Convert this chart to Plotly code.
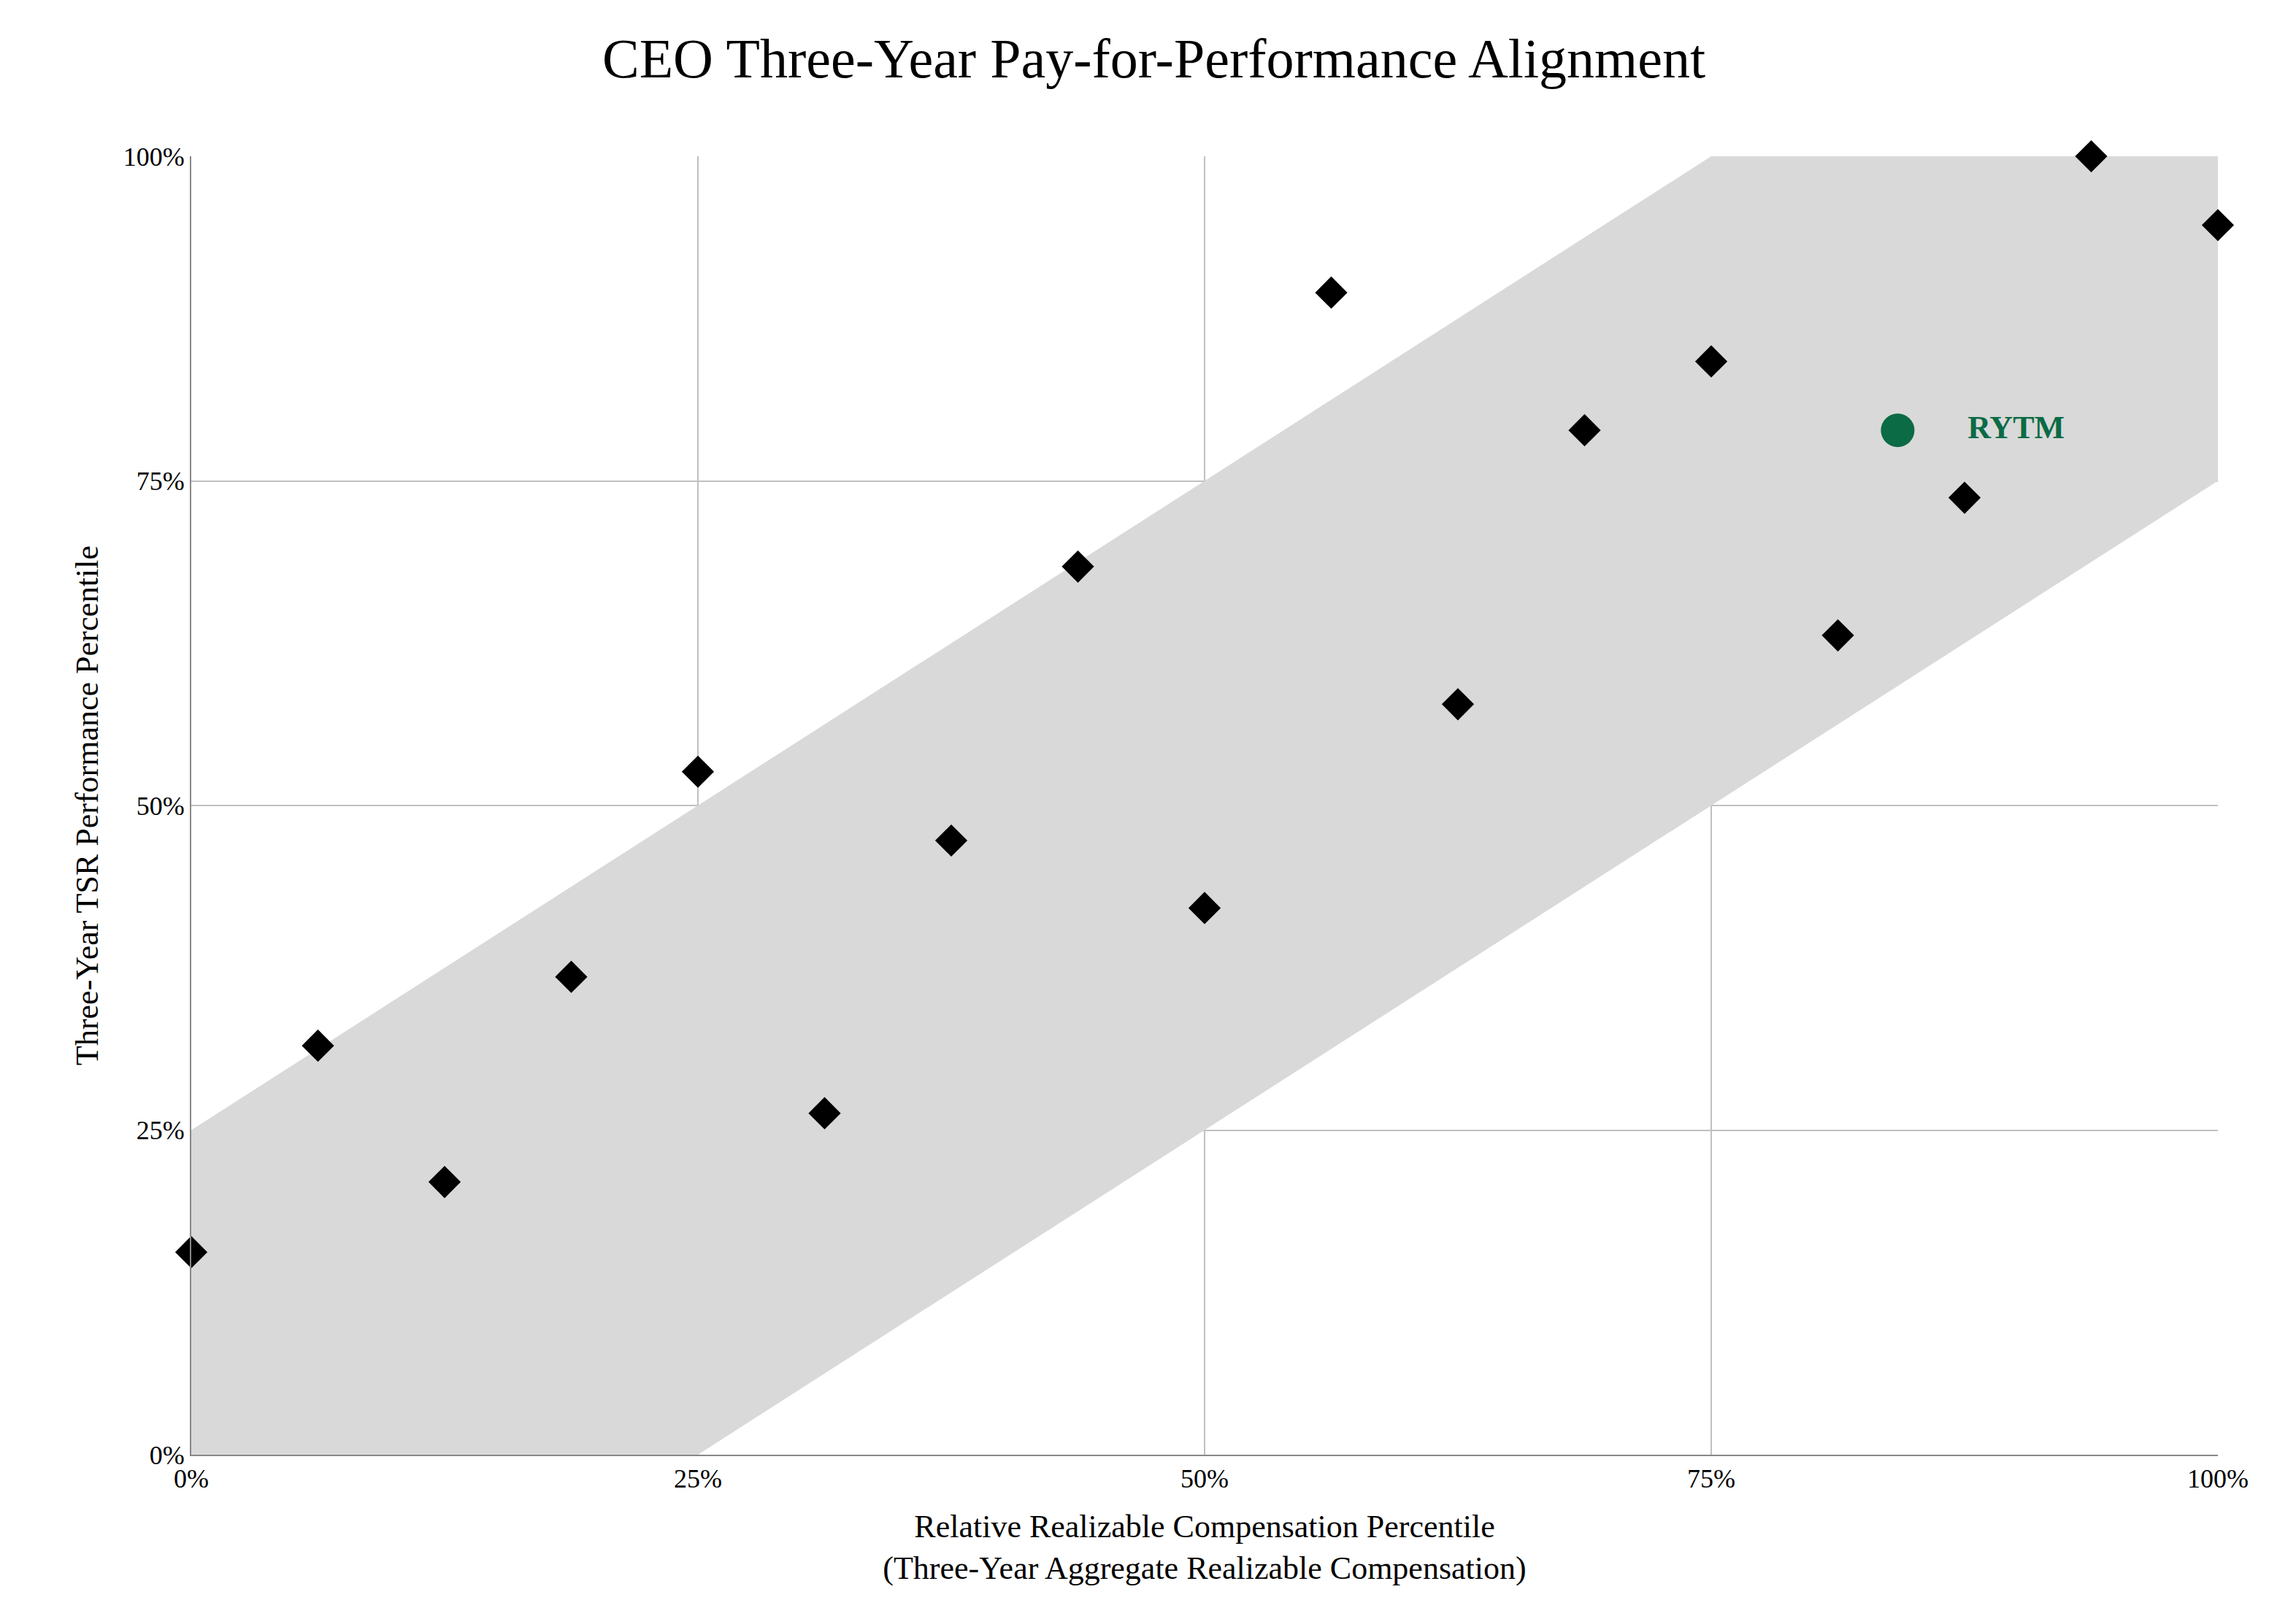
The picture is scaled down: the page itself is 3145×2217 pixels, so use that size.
import plotly.graph_objects as go

# peer companies: comp percentile vs TSR percentile
peer_x = [0, 6.25, 12.5, 18.75, 25, 31.25, 37.5, 43.75, 50, 56.25, 62.5, 68.75, 75, 81.25, 87.5, 93.75, 100]
peer_y = [15.6, 31.5, 21.0, 36.8, 52.6, 26.3, 47.3, 68.4, 42.1, 89.5, 57.8, 78.9, 84.2, 63.1, 73.7, 100, 94.7]

company = "RYTM"
company_x = [84.2]
company_y = [78.9]

# alignment band outline
band_x = [0, 0, 75, 100, 100, 25, 0]
band_y = [0, 25, 100, 100, 75, 0, 0]

tick_vals = [0, 25, 50, 75, 100]
tick_text = ["0%", "25%", "50%", "75%", "100%"]

font = "Liberation Serif"

fig = go.Figure()
fig.add_trace(go.Scatter(x=band_x, y=band_y, fill="toself", fillcolor="#d9d9d9",
                         line=dict(width=0), mode="lines", hoverinfo="skip", showlegend=False))
fig.add_trace(go.Scatter(x=peer_x, y=peer_y, mode="markers", cliponaxis=False,
                         marker=dict(symbol="diamond", size=34, color="black"), showlegend=False))
fig.add_trace(go.Scatter(x=company_x, y=company_y, mode="markers+text", cliponaxis=False,
                         text=["   " + company], textposition="middle right",
                         textfont=dict(family=font, size=44, color="#0b6b45"),
                         texttemplate="   <b>%{text}</b>",
                         marker=dict(symbol="circle", size=46, color="#0b6b45"), showlegend=False))

fig.update_layout(
    width=3145, height=2217,
    paper_bgcolor="white", plot_bgcolor="white",
    font=dict(family=font, color="black"),
    title=dict(text="CEO Three-Year Pay-for-Performance Alignment", x=0.5, xanchor="center",
               y=0.98, yanchor="top", font=dict(size=76)),
    margin=dict(l=254, r=115, t=206, b=233),
    xaxis=dict(range=[0, 100], tickvals=tick_vals, ticktext=tick_text, showgrid=True,
               gridcolor="#c0c0c0", gridwidth=2, zeroline=False, tickfont=dict(size=36),
               showline=True, linecolor="#888", linewidth=2,
               title=dict(text="Relative Realizable Compensation Percentile<br>(Three-Year Aggregate Realizable Compensation)",
                          font=dict(size=44), standoff=30)),
    yaxis=dict(range=[0, 100], tickvals=tick_vals, ticktext=tick_text, showgrid=True,
               gridcolor="#c0c0c0", gridwidth=2, zeroline=False, tickfont=dict(size=36),
               showline=True, linecolor="#888", linewidth=2,
               title=dict(text="Three-Year TSR Performance Percentile", font=dict(size=44), standoff=20)),
)

fig.write_html("out.html")
